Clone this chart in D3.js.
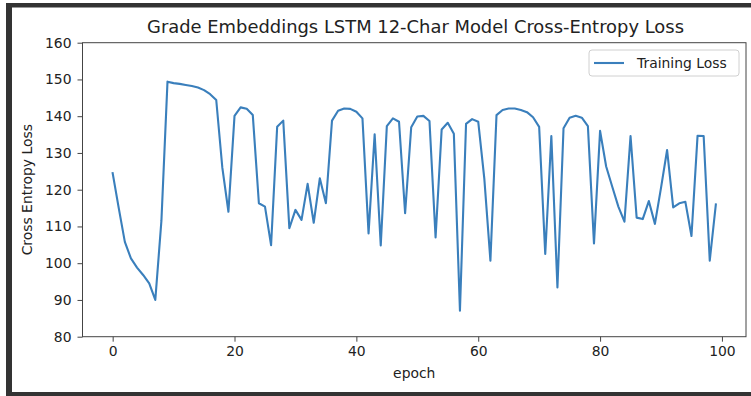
<!DOCTYPE html>
<html>
<head>
<meta charset="utf-8">
<script src="https://cdn.jsdelivr.net/npm/d3@7"></script>
<style>
  html, body { margin: 0; padding: 0; background: #fff; }
  svg { display: block; font-family: "DejaVu Sans", sans-serif; }
</style>
</head>
<body>
<svg id="chart" width="751" height="396"></svg>
<script>
const title = "Grade Embeddings LSTM 12-Char Model Cross-Entropy Loss";
const xLabel = "epoch";
const yLabel = "Cross Entropy Loss";
const seriesName = "Training Loss";
const xTicks = [0, 20, 40, 60, 80, 100];
const yTicks = [80, 90, 100, 110, 120, 130, 140, 150, 160];
const epochs = d3.range(0, 100);
const trainingLoss = [
  124.5, 115.0, 105.8, 101.3, 98.8, 96.8, 94.5, 90.0, 111.5, 149.4,
  149.0, 148.8, 148.5, 148.2, 147.8, 147.1, 146.0, 144.4, 126.0, 114.0,
  140.1, 142.4, 142.0, 140.3, 116.3, 115.4, 104.9, 137.1, 138.8, 109.5,
  114.5, 111.8, 121.6, 111.0, 123.1, 116.3, 138.8, 141.5, 142.1, 142.0,
  141.2, 139.4, 108.1, 135.1, 104.8, 137.3, 139.4, 138.5, 113.6, 137.0,
  139.9, 140.1, 138.7, 107.0, 136.4, 138.2, 135.2, 87.1, 137.9, 139.2,
  138.5, 123.0, 100.7, 140.3, 141.7, 142.1, 142.1, 141.7, 141.1, 139.7,
  137.1, 102.5, 134.6, 93.4, 136.7, 139.6, 140.1, 139.6, 137.3, 105.4,
  136.0, 126.3, 120.8, 115.4, 111.3, 134.6, 112.4, 112.0, 116.9, 110.7,
  120.5, 130.8, 115.2, 116.3, 116.7, 107.4, 134.7, 134.6, 100.7, 116.0
];

const svg = d3.select("#chart");
const W = 751, H = 396;

// outer dark frame (screenshot border)
svg.append("rect").attr("x", 6).attr("y", 3).attr("width", W - 6).attr("height", 4.5).attr("fill", "#333");
svg.append("rect").attr("x", 6).attr("y", 3).attr("width", 6).attr("height", H - 3).attr("fill", "#333");
svg.append("rect").attr("x", 6).attr("y", 392).attr("width", W - 6).attr("height", 4).attr("fill", "#333");

const plot = { left: 82.5, right: 746, top: 42.7, bottom: 336.7 };

const x = d3.scaleLinear().domain([-4.95, 103.95]).range([plot.left, plot.right]);
const y = d3.scaleLinear().domain([80, 160]).range([plot.bottom, plot.top]);

// line
const line = d3.line().x((d, i) => x(epochs[i])).y(d => y(d));
svg.append("path")
  .datum(trainingLoss)
  .attr("fill", "none")
  .attr("stroke", "#3a7fbc")
  .attr("stroke-width", 2.1)
  .attr("stroke-linejoin", "round")
  .attr("stroke-linecap", "square")
  .attr("d", line);

// axes
const xAxis = d3.axisBottom(x).tickValues(xTicks).tickSize(5).tickPadding(4).tickSizeOuter(0);
const yAxis = d3.axisLeft(y).tickValues(yTicks).tickSize(5).tickPadding(6).tickSizeOuter(0);

const gx = svg.append("g").attr("transform", `translate(0,${plot.bottom})`).call(xAxis);
const gy = svg.append("g").attr("transform", `translate(${plot.left},0)`).call(yAxis);
[gx, gy].forEach(g => {
  g.select(".domain").remove();
  g.selectAll(".tick line").attr("stroke", "#444").attr("stroke-width", 1);
  g.selectAll(".tick text").attr("fill", "#222").style("font-size", "13.9px").style("font-family", "DejaVu Sans, sans-serif");
});

// spines
svg.append("rect")
  .attr("x", plot.left).attr("y", plot.top)
  .attr("width", plot.right - plot.left).attr("height", plot.bottom - plot.top)
  .attr("fill", "none").attr("stroke", "#444").attr("stroke-width", 1);

// title
svg.append("text")
  .attr("x", 415.5).attr("y", 33)
  .attr("text-anchor", "middle")
  .attr("fill", "#222")
  .attr("textLength", 537)
  .attr("lengthAdjust", "spacingAndGlyphs")
  .style("font-size", "17.4px")
  .text(title);

// x label
svg.append("text")
  .attr("x", (plot.left + plot.right) / 2).attr("y", 378)
  .attr("text-anchor", "middle")
  .attr("fill", "#222")
  .style("font-size", "13.9px")
  .text(xLabel);

// y label
svg.append("text")
  .attr("transform", `translate(31.5,${(plot.top + plot.bottom) / 2}) rotate(-90)`)
  .attr("text-anchor", "middle")
  .attr("fill", "#222")
  .style("font-size", "13.9px")
  .text(yLabel);

// legend
const lg = svg.append("g");
lg.append("rect")
  .attr("x", 589).attr("y", 50).attr("width", 150).attr("height", 26)
  .attr("rx", 3).attr("ry", 3)
  .attr("fill", "#fff").attr("fill-opacity", 0.8)
  .attr("stroke", "#d0d0d0").attr("stroke-width", 1);
lg.append("line")
  .attr("x1", 594).attr("x2", 624).attr("y1", 63).attr("y2", 63)
  .attr("stroke", "#3a7fbc").attr("stroke-width", 2.1);
lg.append("text")
  .attr("x", 637).attr("y", 68)
  .attr("fill", "#222")
  .style("font-size", "13.9px")
  .text(seriesName);
</script>
</body>
</html>
